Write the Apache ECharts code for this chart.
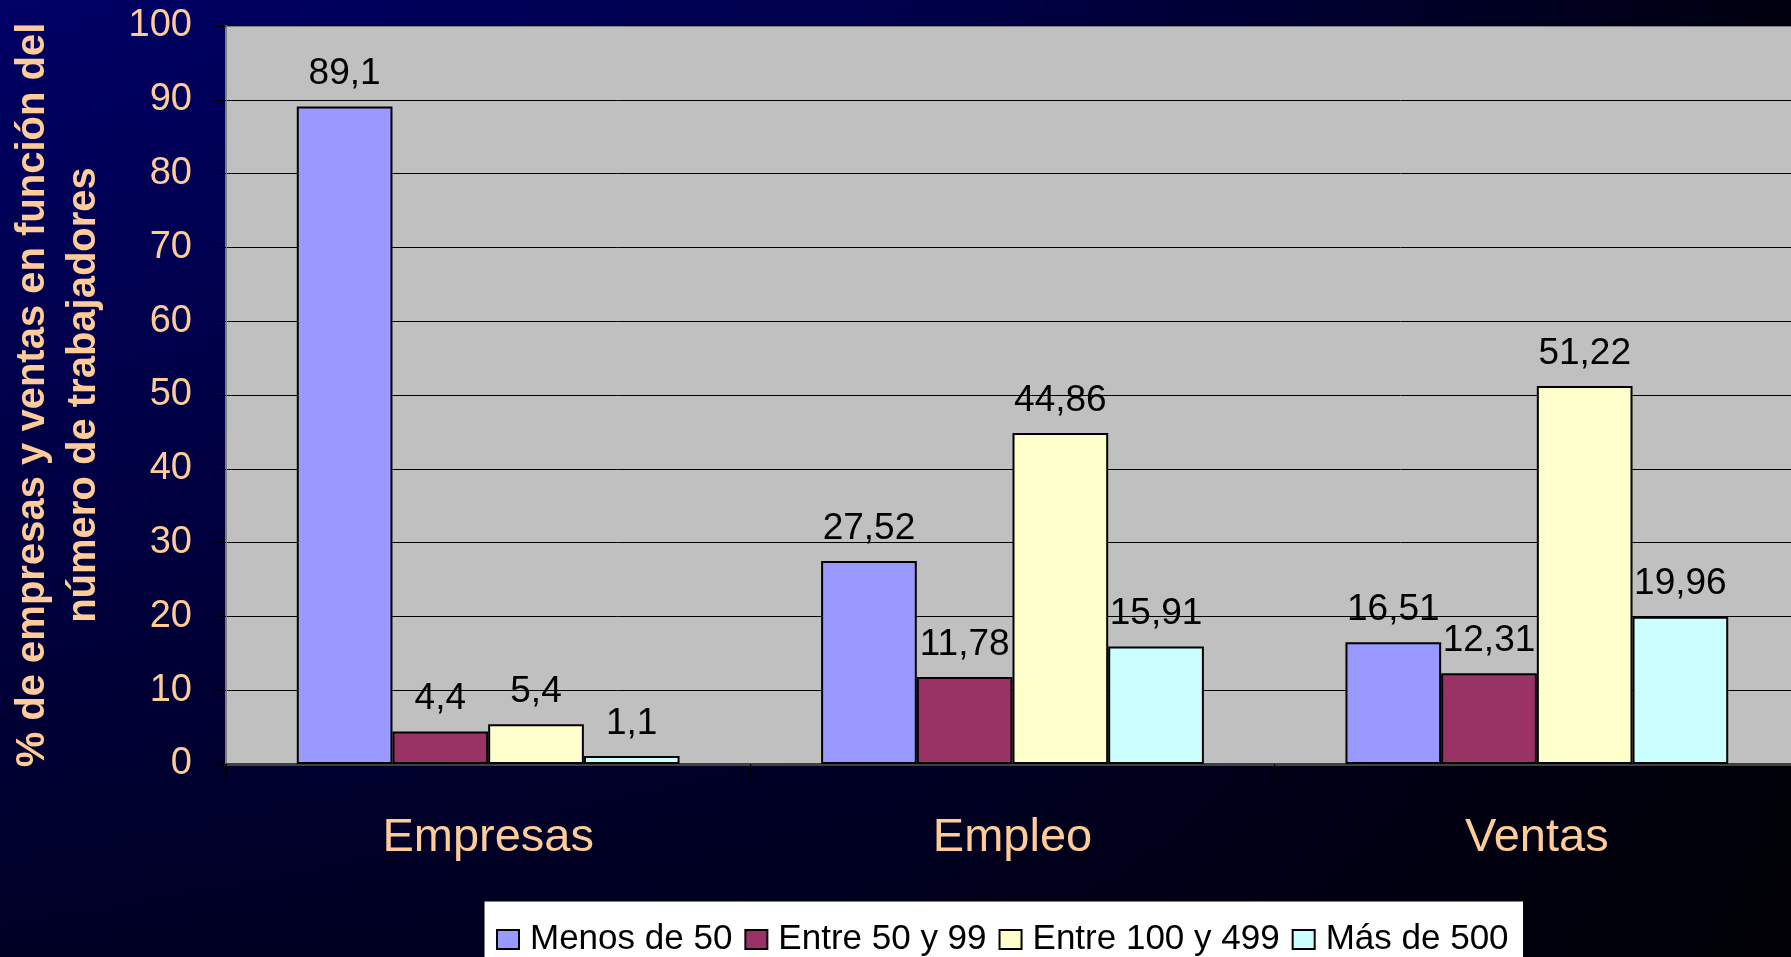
<!DOCTYPE html>
<html>
<head>
<meta charset="utf-8">
<script src="https://cdn.jsdelivr.net/npm/echarts@6/dist/echarts.min.js"></script>
<style>
html,body{margin:0;padding:0;}
#chart{width:1791px;height:957px;
background:
 linear-gradient(to bottom, rgba(0,0,0,0) 0%, rgba(0,0,0,0.63) 100%),
 linear-gradient(to right, #000066 0%, #00004c 50%, #00000f 100%);}
</style>
</head>
<body>
<div id="chart"></div>
<script>
const categories = ['Empresas', 'Empleo', 'Ventas'];
const seriesNames = ['Menos de 50', 'Entre 50 y 99', 'Entre 100 y 499', 'Más de 500'];
const menosDe50 = [89.1, 27.52, 16.51];
const entre50y99 = [4.4, 11.78, 12.31];
const entre100y499 = [5.4, 44.86, 51.22];
const masDe500 = [1.1, 15.91, 19.96];
const yMin = 0, yMax = 100, yStep = 10;
const yAxisTitle = '% de empresas y ventas en función del\nnúmero de trabajadores';

const colors = ['#9999FF', '#993366', '#FFFFCC', '#CCFFFF'];
const seriesData = [menosDe50, entre50y99, entre100y499, masDe500];
const FONT = "'Liberation Sans', Arial, sans-serif";

const splitColors = [];
for (let v = yMin; v <= yMax; v += yStep) splitColors.push(v === yMax ? '#808080' : '#000000');

const chart = echarts.init(document.getElementById('chart'), null, {renderer: 'canvas'});
chart.setOption({
  backgroundColor: 'transparent',
  animation: false,
  textStyle: {fontFamily: FONT},
  grid: {
    left: 226, top: 26, right: -8, bottom: 193,
    containLabel: false,
    outerBoundsMode: 'none',
    show: true, backgroundColor: '#C0C0C0', borderWidth: 0
  },
  legend: {
    left: 484, top: 901,
    padding: [21, 15, 20, 12],
    backgroundColor: '#FFFFFF', borderColor: '#000000', borderWidth: 1, borderRadius: 0,
    itemWidth: 22, itemHeight: 19, itemGap: 12,
    icon: 'rect',
    itemStyle: {borderColor: '#000000', borderWidth: 2},
    textStyle: {color: '#000000', fontSize: 35, fontFamily: FONT, lineHeight: 35, padding: [0, 0, 0, 6]},
    data: seriesNames
  },
  xAxis: {
    type: 'category',
    data: categories,
    axisLine: {show: true, lineStyle: {color: '#404040', width: 3}},
    axisTick: {show: true, alignWithLabel: false, length: 16, lineStyle: {color: '#000000', width: 1}},
    axisLabel: {color: '#FFCC99', fontSize: 47, fontFamily: FONT, margin: 51, lineHeight: 47},
    splitLine: {show: false}
  },
  yAxis: {
    type: 'value',
    min: yMin, max: yMax, interval: yStep,
    name: yAxisTitle,
    nameLocation: 'middle',
    nameGap: 117,
    nameRotate: 90,
    nameTextStyle: {color: '#FFCC99', fontSize: 40, fontWeight: 'bold', fontFamily: FONT, lineHeight: 51, align: 'center'},
    axisLine: {show: true, lineStyle: {color: '#808080', width: 2}},
    axisTick: {show: true, length: 12, lineStyle: {color: '#000000', width: 1}},
    axisLabel: {color: '#FFCC99', fontSize: 38, fontFamily: FONT, margin: 34},
    splitLine: {show: true, lineStyle: {color: splitColors, width: 1}}
  },
  series: seriesNames.map((name, i) => ({
    name: name,
    type: 'bar',
    data: seriesData[i],
    barGap: '0%',
    barCategoryGap: '27%',
    itemStyle: {color: colors[i], borderColor: '#000000', borderWidth: 2},
    label: {
      show: true, position: 'top', distance: 14,
      color: '#000000', fontSize: 37, fontFamily: FONT,
      formatter: p => String(p.value).replace('.', ',')
    }
  }))
});
</script>
</body>
</html>
